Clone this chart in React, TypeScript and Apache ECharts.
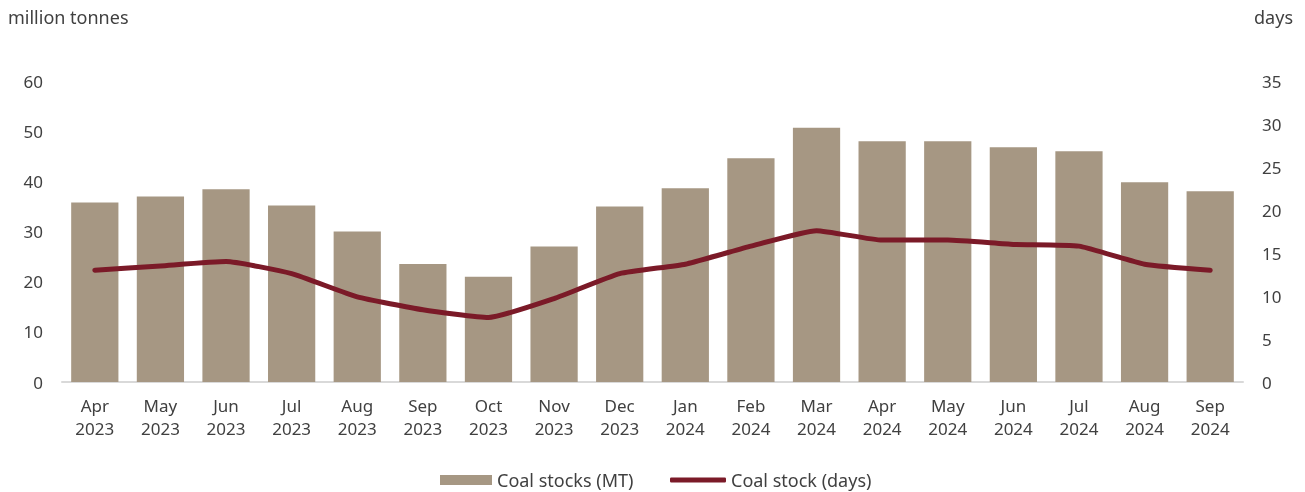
import React, { useEffect, useRef } from "react";
import * as echarts from "echarts";

const months = ["Apr", "May", "Jun", "Jul", "Aug", "Sep", "Oct", "Nov", "Dec", "Jan", "Feb", "Mar", "Apr", "May", "Jun", "Jul", "Aug", "Sep"];
const years = ["2023", "2023", "2023", "2023", "2023", "2023", "2023", "2023", "2023", "2024", "2024", "2024", "2024", "2024", "2024", "2024", "2024", "2024"];
const coalStocksMT = [35.8, 37.0, 38.4, 35.2, 30.0, 23.5, 21.0, 27.0, 35.0, 38.6, 44.6, 50.7, 48.0, 48.0, 46.8, 46.0, 39.8, 38.0];
const coalStockDays = [13.0, 13.5, 14.0, 12.6, 9.9, 8.4, 7.5, 9.7, 12.6, 13.7, 15.8, 17.6, 16.5, 16.5, 16.0, 15.8, 13.7, 13.0];
const leftTicks = { min: 0, max: 60, interval: 10 };
const rightTicks = { min: 0, max: 35, interval: 5 };

const FONT = "'Noto Sans', sans-serif";
const TEXT = "#404040";
const BAR = "#a69783";
const LINE = "#7b1a28";

export default function App() {
  const ref = useRef<HTMLDivElement>(null);
  useEffect(() => {
    const chart = echarts.init(ref.current!, null, { renderer: "svg" });
    const categories = months.map((m, i) => `${m}\n${years[i]}`);
    chart.setOption({
      animation: false,
      textStyle: { fontFamily: FONT, color: TEXT },
      grid: { left: 62, right: 62, top: 81, bottom: 110 },
      graphic: [
        { type: "text", left: 8, top: 8, style: { text: "million tonnes", font: `18px ${FONT}`, fill: TEXT } },
        { type: "text", right: 12, top: 8, style: { text: "days", font: `18px ${FONT}`, fill: TEXT } },
      ],
      legend: [
        {
          data: ["Coal stocks (MT)"],
          left: 440,
          top: 471,
          padding: 0,
          itemWidth: 52,
          itemHeight: 10,
          icon: "rect",
          textStyle: { fontSize: 18, color: TEXT, fontFamily: FONT },
        },
        {
          data: ["Coal stock (days)"],
          left: 670,
          top: 471,
          padding: 0,
          itemWidth: 56,
          itemHeight: 5,
          icon: "roundRect",
          textStyle: { fontSize: 18, color: TEXT, fontFamily: FONT },
        },
      ],
      xAxis: {
        type: "category",
        data: categories,
        axisTick: { show: false },
        axisLine: { lineStyle: { color: "#d9d9d9", width: 2 } },
        axisLabel: { color: TEXT, fontSize: 17, lineHeight: 23, margin: 12, fontFamily: FONT, interval: 0 },
      },
      yAxis: [
        {
          type: "value",
          ...leftTicks,
          splitLine: { show: false },
          axisLine: { show: false },
          axisTick: { show: false },
          axisLabel: { color: TEXT, fontSize: 17, margin: 19, fontFamily: FONT },
        },
        {
          type: "value",
          ...rightTicks,
          position: "right",
          splitLine: { show: false },
          axisLine: { show: false },
          axisTick: { show: false },
          axisLabel: { color: TEXT, fontSize: 17, margin: 19, fontFamily: FONT },
        },
      ],
      series: [
        {
          name: "Coal stocks (MT)",
          type: "bar",
          data: coalStocksMT,
          barCategoryGap: "28%",
          itemStyle: { color: BAR },
        },
        {
          name: "Coal stock (days)",
          type: "line",
          yAxisIndex: 1,
          data: coalStockDays,
          smooth: 0.15,
          symbol: "none",
          lineStyle: { color: LINE, width: 5, cap: "round" },
          itemStyle: { color: LINE },
        },
      ],
    });
    return () => chart.dispose();
  }, []);
  return <div ref={ref} style={{ position: "fixed", left: 0, top: 0, width: 1305, height: 492 }} />;
}
